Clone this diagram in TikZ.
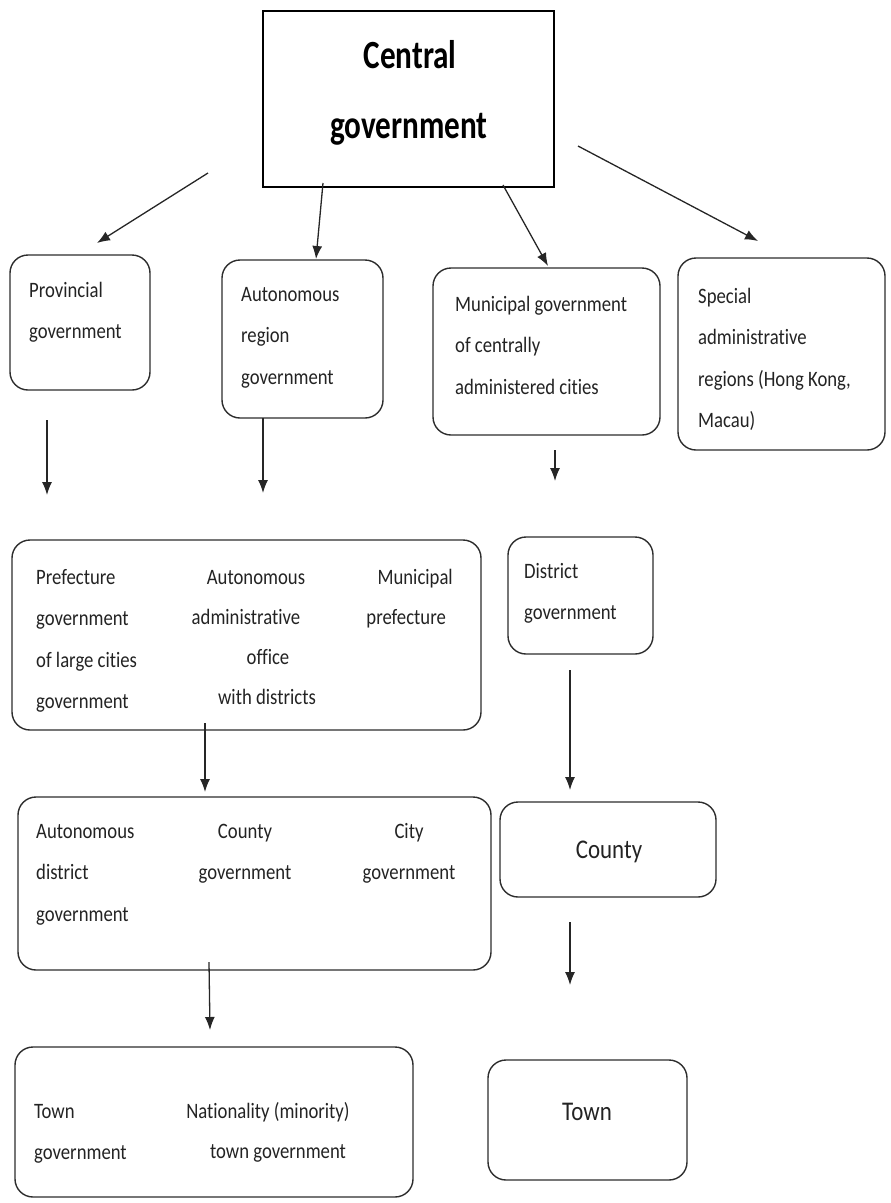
\documentclass[tikz,border=0pt]{standalone}
\usepackage{fontspec}
\setmainfont[FakeStretch=0.85, Ligatures=NoCommon]{Carlito}
\newfontfamily\titlefont[FakeStretch=0.78, Ligatures=NoCommon]{Carlito}
\usetikzlibrary{arrows.meta}
\definecolor{textgray}{RGB}{35,35,35}
\definecolor{linegray}{RGB}{45,45,45}
\tikzset{
  box/.style={draw=linegray, line width=1.4pt, rounded corners=18pt, inner sep=0pt},
  txt/.style={anchor=base west, inner sep=0pt, text=textgray, align=left,
    font=\fontsize{22}{41.5}\selectfont},
  ctxt/.style={txt, anchor=base, align=center},
  bigtxt/.style={anchor=base, inner sep=0pt, text=textgray, font=\fontsize{27}{32}\selectfont},
  link/.style={-{Latex[length=13pt,width=10pt]}, line width=1.3pt, draw=black!85},
}
\begin{document}
\begin{tikzpicture}[x=1pt,y=-1pt]
\useasboundingbox (0,0) rectangle (891,1203);

% Central government
\node[draw=black, line width=1.4pt, minimum width=291pt, minimum height=176pt, inner sep=0pt] (central) at (408.5,99) {};
\node[anchor=base, inner sep=0pt, font=\titlefont\bfseries\fontsize{40}{48}\selectfont] (centralA) at (410,68) {Central};
\node[anchor=base, inner sep=0pt, font=\titlefont\bfseries\fontsize{40}{48}\selectfont] (centralB) at (409,138) {government};

% Second level (multi-line text sits on its last baseline)
\node[box, minimum width=140pt, minimum height=135pt] (prov) at (80,322.5) {};
\node[box, minimum width=161pt, minimum height=158pt] (autoreg) at (302.5,339) {};
\node[box, minimum width=227pt, minimum height=167pt] (muni) at (546.5,351.5) {};
\node[box, minimum width=207pt, minimum height=192pt] (special) at (781.5,354) {};
\node[txt] (provtxt) at (29,338.5) {Provincial\\government};
\node[txt] (autoregtxt) at (241,384) {Autonomous\\region\\government};
\node[txt] (munitxt) at (455,394) {Municipal government\\of centrally\\administered cities};
\node[txt] (specialtxt) at (698,427.5) {Special\\administrative\\regions (Hong Kong,\\Macau)};

% Third level
\node[box, minimum width=469pt, minimum height=190pt] (pref) at (246.5,635) {};
\node[box, minimum width=145pt, minimum height=117pt] (district) at (580.5,595.5) {};
\node[txt] (preftxt) at (36,708.5) {Prefecture\\government\\of large cities\\government};
\node[ctxt] (officeA) at (256,584) {Autonomous};
\node[ctxt] (officeB) at (246,624) {administrative};
\node[ctxt] (officeC) at (268,664) {office};
\node[ctxt] (officeD) at (267,704) {with districts};
\node[txt, anchor=base east] (munprefA) at (453,584) {Municipal};
\node[txt, anchor=base east] (munprefB) at (446,624) {prefecture};
\node[txt] (districttxt) at (524,619.5) {District\\government};

% Fourth level
\node[box, minimum width=473pt, minimum height=173pt] (county) at (254.5,883.5) {};
\node[box, minimum width=216pt, minimum height=95pt] (countyR) at (608,849.5) {};
\node[txt] (autodist) at (36,921) {Autonomous\\district\\government};
\node[ctxt] (countygov) at (245,879.5) {County\\government};
\node[ctxt] (citygov) at (409,879.5) {City\\government};
\node[bigtxt] (countyRtxt) at (609,858) {County};

% Fifth level
\node[box, minimum width=398pt, minimum height=150pt] (townL) at (214,1122) {};
\node[box, minimum width=199pt, minimum height=120pt] (townR) at (587.5,1120) {};
\node[txt] (towngov) at (34,1159.5) {Town\\government};
\node[ctxt] (natA) at (268,1118) {Nationality (minority)};
\node[ctxt] (natB) at (278,1158) {town government};
\node[bigtxt] (townRtxt) at (587,1120) {Town};

% Arrow ends
\coordinate (a1) at (208,173);  \coordinate (b1) at (97,243);
\coordinate (a2) at (323,183);  \coordinate (b2) at (316,259);
\coordinate (a3) at (503,185);  \coordinate (b3) at (548,266);
\coordinate (a4) at (578,146);  \coordinate (b4) at (758,241);
\coordinate (a5) at (47,420);   \coordinate (b5) at (47,495);
\coordinate (a6) at (263,418);  \coordinate (b6) at (263,493);
\coordinate (a7) at (555,450);  \coordinate (b7) at (555,481);
\coordinate (a8) at (205,723);  \coordinate (b8) at (205,792);
\coordinate (a9) at (570,670);  \coordinate (b9) at (570,790);
\coordinate (a10) at (209,962); \coordinate (b10) at (210,1030);
\coordinate (a11) at (570,922); \coordinate (b11) at (570,985);

% Connections
\foreach \i in {1,...,11}
  \draw[link] (a\i) -- (b\i);
\end{tikzpicture}
\end{document}
